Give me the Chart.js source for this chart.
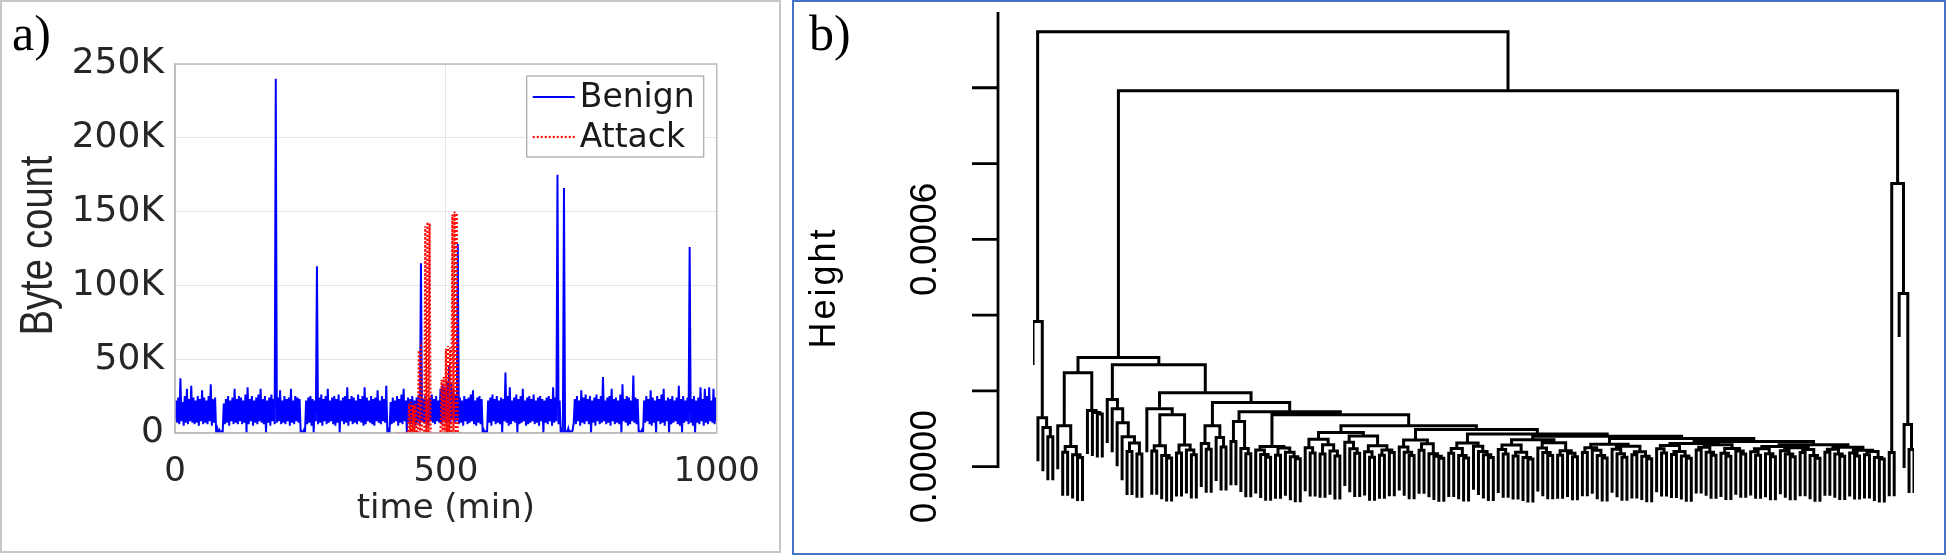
<!DOCTYPE html>
<html>
<head>
<meta charset="utf-8">
<title>Byte count and dendrogram</title>
<script src="https://cdn.jsdelivr.net/npm/chart.js@4.4.1/dist/chart.umd.min.js"></script>
<style>
  html, body { margin: 0; padding: 0; background: #fff; }
  body { width: 1946px; height: 555px; position: relative; overflow: hidden; }
  .panel { position: absolute; box-sizing: border-box; background: #fff; }
  #panelA { left: 0; top: 0; width: 781px; height: 553px; border: 2px solid #c6c6c6; }
  #panelB { left: 792px; top: 0; width: 1154px; height: 555px; border: 2px solid #4472c4; }
  .tag { position: absolute; z-index: 2; font-family: 'Liberation Serif', serif; font-size: 50px; line-height: 1; color: #000; }
  canvas { position: absolute; left: 0; top: 0; }
</style>
</head>
<body>
<div class="panel" id="panelA">
  <canvas id="chartA" width="777" height="549"></canvas>
  <div class="tag" style="left:10px; top:6px;">a)</div>
</div>
<div class="panel" id="panelB">
  <canvas id="chartB" width="1150" height="551"></canvas>
  <div class="tag" style="left:15px; top:6px;">b)</div>
</div>
<script>
// ---- panel a: byte count per minute (K), read as low / high per 4-minute slot ----
const slotMinutes = 4;
const benignLowK = [            // t = 0, 4, 8 ... 1000
  9, 7, 6, 8, 5, 7, 6, 8, 7, 6,
  7, 5, 8, 6, 7, 6, 8, 5, 7, 0,
  0, 0, 0, 6, 7, 5, 8, 6, 7, 6,
  8, 6, 7, 0, 6, 8, 5, 7, 6, 8,
  7, 6, 0, 7, 5, 8, 6, 7, 8, 6,
  7, 6, 8, 5, 7, 6, 8, 7, 0, 0,
  0, 6, 7, 5, 0, 8, 6, 7, 5, 8,
  6, 7, 8, 6, 5, 7, 0, 8, 6, 7,
  5, 8, 6, 7, 6, 8, 7, 5, 6, 8,
  7, 6, 5, 8, 7, 6, 8, 7, 0, 0,
  6, 7, 8, 5, 7, 6, 8, 0, 7, 6,
  8, 5, 7, 6, 8, 7, 6, 5, 8, 7,
  6, 8, 7, 6, 9, 7, 8, 6, 9, 7,
  8, 6, 7, 5, 8, 6, 7, 8, 6, 5,
  7, 6, 0, 0, 0, 7, 5, 8, 6, 7,
  6, 0, 8, 7, 5, 6, 8, 7, 0, 6,
  7, 8, 5, 6, 7, 8, 6, 7, 5, 8,
  0, 7, 6, 8, 5, 7, 8, 6, 0, 0,
  0, 0, 0, 0, 7, 6, 8, 5, 7, 6,
  8, 6, 0, 7, 5, 8, 6, 7, 8, 6,
  7, 5, 8, 6, 7, 6, 0, 8, 7, 5,
  6, 8, 7, 6, 0, 0, 0, 7, 8, 6,
  5, 7, 0, 8, 6, 7, 5, 8, 0, 6,
  7, 8, 6, 5, 0, 7, 8, 6, 7, 5,
  0, 7, 6, 8, 5, 7, 6, 8, 7, 6,
  8
];
const benignHighK = [           // t = 2, 6, 10 ... 998
  22, 24, 37, 21, 25, 30, 23, 32, 24, 22,
  25, 23, 29, 24, 22, 25, 33, 23, 24, 3,
  2, 1, 20, 23, 25, 22, 24, 30, 23, 25,
  24, 22, 26, 31, 23, 25, 22, 24, 26, 30,
  23, 25, 22, 24, 26, 23, 240, 24, 29, 22,
  25, 23, 24, 30, 22, 25, 24, 23, 1, 2,
  22, 24, 25, 23, 22, 113, 24, 26, 23, 25,
  30, 22, 24, 25, 23, 26, 22, 24, 25, 31,
  23, 25, 24, 22, 26, 23, 25, 31, 24, 22,
  25, 23, 24, 29, 22, 25, 23, 32, 2, 21,
  24, 22, 25, 23, 26, 30, 22, 24, 23, 25,
  22, 24, 26, 115, 23, 25, 22, 24, 26, 23,
  25, 22, 30, 33, 31, 35, 46, 34, 30, 26,
  128, 24, 22, 25, 23, 24, 26, 29, 22, 24,
  25, 23, 2, 1, 22, 24, 26, 23, 25, 22,
  24, 23, 41, 25, 31, 22, 24, 26, 23, 25,
  30, 22, 24, 25, 23, 26, 22, 24, 25, 23,
  22, 24, 25, 23, 31, 24, 175, 22, 2, 166,
  1, 3, 1, 2, 23, 25, 22, 29, 24, 26,
  23, 25, 22, 24, 26, 23, 25, 38, 22, 24,
  25, 30, 23, 24, 22, 26, 33, 23, 25, 24,
  22, 39, 24, 23, 1, 2, 22, 25, 23, 29,
  24, 22, 25, 23, 26, 30, 22, 24, 23, 25,
  22, 24, 32, 23, 25, 22, 24, 126, 23, 25,
  22, 24, 31, 23, 30, 25, 31, 22, 30, 24
];
const attackStart = 410;       // minute of first attack sample
const attackStep = 2;
const attackK = [
  0, 0, 0, 0, 0, 0, 0, 0, 0, 0,
  0, 20, 0, 21, 0, 19, 0, 20, 0, 0,
  56, 0, 62, 0, 0, 0, 140, 0, 143, 0,
  142, 0, 0, 0, 0, 0, 0, 0, 0, 0,
  0, 36, 0, 38, 0, 57, 0, 59, 0, 58,
  0, 148, 0, 150, 0, 149, 0, 0, 0, 0,
  0
];
const timeTicks = [0, 500, 1000];
const timeTickLabels = ['0', '500', '1000'];
const byteTicks = [0, 50000, 100000, 150000, 200000, 250000];
const byteTickLabels = ['0', '50K', '100K', '150K', '200K', '250K'];

// ---- panel b: hierarchical clustering, node = [height, left, right], 0 = leaf ----
const heightUnit = 1e-6;       // heights below are in units of 1e-6
const leafHang = 115;          // leaves hang this far under their merge
const leftGroup = [383, 0, [129, 0, [103, 0, [79, 0, 0]]]];
const rightGroup = [747, [37, 0, 0], [457, 0, [111, 0, [45, 0, 0]]]];
const groupC1 = [248, [108, 0, [53, [38, 0, 0], [31, 0, [24, 0, 0]]]], [148, 0, [143, 0, [139, 0, 0]]]];
const groupC2a = [177, 0, [153, 0, [116, 0, [79, 0, [62, [40, 0, 0], [33, 0, 0]]]]]];
const groupD1 = [153, 0, [137, [55, [41, 0, 0], [29, 0, [23, 0, 0]]], [57, [36, 0, 0], [44, 0, [31, 0, 0]]]]];
const groupE1 = [108, [61, 0, [46, 0, 0]], [77, 0, [52, 0, 0]]];
const twigA = [119, [66, 0, 0], [48, 0, [34, 0, 0]]];
const twigB = [53, [44, 0, [32, 0, [25, 0, 0]]], [49, [30, 0, 0], [38, 0, [26, 0, [21, 0, 0]]]]];
const twigC = [90, [72, [50, 0, [36, 0, 0]], [58, [33, 0, 0], [41, 0, [28, 0, 0]]]], [81, [64, 0, [47, 0, [35, 0, 0]]], [55, [39, 0, [25, 0, 0]], [44, [30, 0, 0], [37, 0, 0]]]]];
const twigD = [70, [52, 0, [38, 0, [29, 0, 0]]], [60, [43, 0, 0], [34, 0, [27, 0, [22, 0, 0]]]]];
const twigE = [62, [48, [35, 0, 0], [29, 0, [23, 0, 0]]], [54, 0, [40, 0, [31, 0, [24, 0, 0]]]]];
const twigF = [71, [57, [45, 0, [33, 0, 0]], [38, [28, 0, 0], [24, 0, [20, 0, 0]]]], [63, [49, 0, [37, 0, [29, 0, 0]]], [42, [30, 0, 0], [35, 0, [26, 0, 0]]]]];
const twigG = [59, [50, [37, 0, 0], [43, 0, [29, 0, [23, 0, 0]]]], [54, [46, 0, [34, 0, [25, 0, 0]]], [39, [31, 0, 0], [27, 0, [21, 0, 0]]]]];
const twigH = [61, [56, [47, 0, [36, 0, 0]], [40, [32, 0, 0], [28, 0, [22, 0, 0]]]], [58, [51, [44, 0, 0], [38, 0, [30, 0, 0]]], [48, [35, 0, [27, 0, 0]], [41, 0, [33, 0, 0]]]]];
const twigI = [53, [47, [39, 0, [30, 0, 0]], [34, 0, [26, 0, 0]]], [50, [42, 0, [33, 0, [26, 0, 0]]], [45, [37, 0, 0], [29, 0, [22, 0, 0]]]]];
const twigJ = [51, [46, [38, 0, 0], [33, 0, [27, 0, 0]]], [43, [36, 0, [28, 0, 0]], [40, [31, 0, 0], [24, 0, [20, 0, 0]]]]];
const chainHeights = [145, 137, 108, 98, 86, 80, 74, 66, 58];
const chainTwigs = [twigA, twigB, twigC, twigD, twigE, twigF, twigG, twigH, twigI];
const heightTicks = [0, 0.0002, 0.0004, 0.0006, 0.0008, 0.0010];
const heightLabelValues = [0, 0.0006];
const heightLabels = ['0.0000', '0.0006'];
const heightAxisTop = 0.0012;

// chain of twigs running to the right, joined from the far end
let chain = twigJ;
for (let k = chainHeights.length - 1; k >= 0; k--) chain = [chainHeights[k], chainTwigs[k], chain];
const mainGroup = [288, groupC1, [269, groupC2a, [195, groupD1, [169, groupE1, chain]]]];
const tree = [1148, leftGroup, [992, mainGroup, rightGroup]];

// walk the tree: leaves get 0,1,2..., a merge sits midway over its children
const dendroPoints = [];
let leafCount = 0;
function place(node) {
  if (node === 0) return { x: leafCount++, top: null };
  const [h, a, b] = node;
  const l = place(a), r = place(b);
  const yl = l.top === null ? h - leafHang : l.top;
  const yr = r.top === null ? h - leafHang : r.top;
  dendroPoints.push(
    { x: l.x, y: yl * heightUnit }, { x: l.x, y: h * heightUnit },
    { x: r.x, y: h * heightUnit }, { x: r.x, y: yr * heightUnit },
    { x: r.x, y: null }
  );
  return { x: (l.x + r.x) / 2, top: h };
}
place(tree);

// low of each slot at its start, high half way through it
const benignPoints = [];
benignLowK.forEach((v, i) => {
  benignPoints.push({ x: i * slotMinutes, y: v * 1000 });
  if (i < benignHighK.length) benignPoints.push({ x: i * slotMinutes + slotMinutes / 2, y: benignHighK[i] * 1000 });
});
const attackPoints = attackK.map((v, i) => ({ x: attackStart + i * attackStep, y: v * 1000 }));

const inkA = '#262626';

const frameAndLegend = {
  id: 'frameAndLegend',
  afterDraw(chart) {
    const { ctx, chartArea: ca } = chart;
    ctx.save();
    ctx.strokeStyle = '#bdbdbd';
    ctx.lineWidth = 1.5;
    ctx.strokeRect(ca.left, ca.top, ca.right - ca.left, ca.bottom - ca.top);

    // y title, a little wider across than plain text, as in the source figure
    ctx.save();
    ctx.fillStyle = inkA;
    ctx.font = "38px 'Liberation Sans'";
    ctx.textAlign = 'center';
    ctx.textBaseline = 'middle';
    ctx.translate(37, (ca.top + ca.bottom) / 2 - 3);
    ctx.rotate(-Math.PI / 2);
    ctx.scale(1, 1.2);
    ctx.fillText('Byte count', 0, 0);
    ctx.restore();

    const w = 177, h = 81, x0 = ca.right - 13 - w, y0 = ca.top + 12;
    ctx.fillStyle = '#fff';
    ctx.fillRect(x0, y0, w, h);
    ctx.strokeStyle = '#a6a6a6';
    ctx.lineWidth = 1.2;
    ctx.strokeRect(x0, y0, w, h);
    chart.data.datasets.forEach((ds, i) => {
      const yy = y0 + 21 + i * 40;
      ctx.strokeStyle = ds.borderColor;
      ctx.lineWidth = 2.2;
      ctx.setLineDash(ds.borderDash || []);
      ctx.beginPath();
      ctx.moveTo(x0 + 6, yy);
      ctx.lineTo(x0 + 48, yy);
      ctx.stroke();
      ctx.setLineDash([]);
      ctx.fillStyle = '#1a1a1a';
      ctx.font = "33px 'DejaVu Sans'";
      ctx.textBaseline = 'middle';
      ctx.textAlign = 'left';
      ctx.fillText(ds.label, x0 + 53, yy + 1);
    });
    ctx.restore();
  }
};

new Chart(document.getElementById('chartA'), {
  type: 'line',
  data: {
    datasets: [
      { label: 'Benign', data: benignPoints, borderColor: '#0000ff', borderWidth: 2, pointRadius: 0, tension: 0, order: 2 },
      { label: 'Attack', data: attackPoints, borderColor: '#ff0000', borderWidth: 2, borderDash: [2, 2], pointRadius: 0, tension: 0, order: 1 }
    ]
  },
  options: {
    responsive: false,
    animation: false,
    events: [],
    layout: { padding: { top: 62, right: 60, left: 0, bottom: 0 } },
    plugins: { legend: { display: false }, tooltip: { enabled: false } },
    scales: {
      x: {
        type: 'linear', min: 0, max: 1000,
        afterBuildTicks: s => { s.ticks = timeTicks.map(v => ({ value: v })); },
        afterFit: s => { s.height = 118; },
        ticks: { font: { family: 'DejaVu Sans', size: 34 }, color: inkA, padding: 19, maxRotation: 0, autoSkip: false, callback: (v, i) => timeTickLabels[i] },
        grid: { color: '#e6e6e6', drawTicks: false },
        border: { color: '#bdbdbd', width: 1.5 },
        title: { display: true, text: 'time (min)', font: { family: 'DejaVu Sans', size: 34 }, color: inkA, padding: { top: 0, bottom: 21 } }
      },
      y: {
        min: 0, max: 250000,
        afterBuildTicks: s => { s.ticks = byteTicks.map(v => ({ value: v })); },
        afterFit: s => { s.width = 173; },
        ticks: { font: { family: 'DejaVu Sans', size: 36 }, color: inkA, padding: 11, autoSkip: false, callback: (v, i) => byteTickLabels[i] },
        grid: { color: '#e6e6e6', drawTicks: false },
        border: { color: '#bdbdbd', width: 1.5 }
      }
    }
  },
  plugins: [frameAndLegend]
});

const heightAxis = {
  id: 'heightAxis',
  afterDraw(chart) {
    const { ctx, chartArea: ca, scales: { y } } = chart;
    const ax = ca.left - 35;
    ctx.save();
    ctx.strokeStyle = '#000';
    ctx.lineWidth = 2.8;
    ctx.beginPath();
    ctx.moveTo(ax, y.getPixelForValue(0));
    ctx.lineTo(ax, y.getPixelForValue(heightAxisTop));
    heightTicks.forEach(v => {
      const p = y.getPixelForValue(v);
      ctx.moveTo(ax + 1.4, p);
      ctx.lineTo(ax - 26, p);
    });
    ctx.stroke();
    ctx.fillStyle = '#000';
    ctx.textAlign = 'center';
    ctx.textBaseline = 'middle';
    ctx.font = "37px 'Liberation Sans'";
    heightLabelValues.forEach((v, i) => {
      ctx.save();
      ctx.translate(ax - 72, y.getPixelForValue(v));
      ctx.rotate(-Math.PI / 2);
      ctx.fillText(heightLabels[i], 0, 0);
      ctx.restore();
    });
    ctx.save();
    ctx.font = "36px 'Liberation Sans'";
    if ('letterSpacing' in ctx) ctx.letterSpacing = '3px';
    ctx.translate(ax - 173, (ca.top + ca.bottom) / 2 + 16);
    ctx.rotate(-Math.PI / 2);
    ctx.fillText('Height', 0, 0);
    ctx.restore();
    ctx.restore();
  }
};

new Chart(document.getElementById('chartB'), {
  type: 'scatter',
  data: {
    datasets: [{ data: dendroPoints, showLine: true, spanGaps: false, borderColor: '#000', borderWidth: 3, pointRadius: 0, tension: 0 }]
  },
  options: {
    responsive: false,
    animation: false,
    events: [],
    layout: { padding: { left: 239, right: 30, top: 10, bottom: 22 } },
    plugins: { legend: { display: false }, tooltip: { enabled: false } },
    scales: {
      x: { type: 'linear', display: false, min: 0, max: leafCount - 1 },
      y: { type: 'linear', display: false, min: -0.00017, max: heightAxisTop }
    }
  },
  plugins: [heightAxis]
});
</script>
</body>
</html>
